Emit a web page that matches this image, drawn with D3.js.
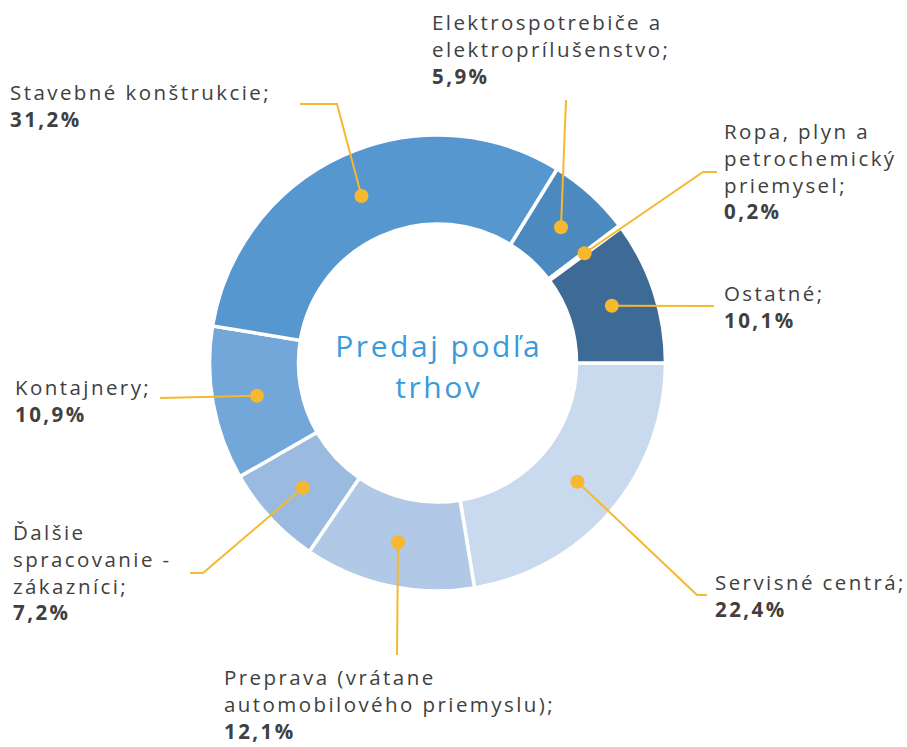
<!DOCTYPE html>
<html>
<head>
<meta charset="utf-8">
<script src="https://cdn.jsdelivr.net/npm/d3@7"></script>
<style>
  html, body { margin: 0; padding: 0; background: #fff; }
  svg { display: block; }
</style>
</head>
<body>
<svg id="chart" width="907" height="747"></svg>
<script>
// ---- data ----
const categories = [
  "Servisné centrá",
  "Preprava (vrátane automobilového priemyslu)",
  "Ďalšie spracovanie - zákazníci",
  "Kontajnery",
  "Stavebné konštrukcie",
  "Elektrospotrebiče a elektroprílušenstvo",
  "Ropa, plyn a petrochemický priemysel",
  "Ostatné"
];
const values = [22.4, 12.1, 7.2, 10.9, 31.2, 5.9, 0.2, 10.1];
const valueLabels = ["22,4%", "12,1%", "7,2%", "10,9%", "31,2%", "5,9%", "0,2%", "10,1%"];
const labelLines = [
  ["Servisné centrá;"],
  ["Preprava (vrátane", "automobilového priemyslu);"],
  ["Ďalšie", "spracovanie -", "zákazníci;"],
  ["Kontajnery;"],
  ["Stavebné konštrukcie;"],
  ["Elektrospotrebiče a", "elektroprílušenstvo;"],
  ["Ropa, plyn a", "petrochemický", "priemysel;"],
  ["Ostatné;"]
];
const colors = ["#c9d9ee", "#b1c9e6", "#9bbae0", "#73a6d9", "#5797cf", "#4b89bf", "#4677a8", "#3e6b96"];
const centerTitle = ["Predaj podľa", "trhov"];

// ---- layout (positions only) ----
const cx = 437.5, cy = 363, rOuter = 228, rInner = 139, rDot = 183.5;
const layout = [
  { bend: [697, 595], end: [707, 595], lx: 715, ly: 590 },
  { bend: [397, 655], end: [397, 655], lx: 224, ly: 685 },
  { bend: [203, 573], end: [190, 573], lx: 13, ly: 540 },
  { bend: [160, 398], end: [160, 398], lx: 15, ly: 395 },
  { bend: [337, 104], end: [300, 104], lx: 10, ly: 100 },
  { bend: [566, 100], end: [566, 100], lx: 432, ly: 30 },
  { bend: [703, 172], end: [717, 172], lx: 724, ly: 139 },
  { bend: [714, 306], end: [714, 306], lx: 724, ly: 301 }
];

const svg = d3.select("#chart");
const g = svg.append("g").attr("transform", `translate(${cx},${cy})`);

const pie = d3.pie().sort(null).value(d => d)
  .startAngle(Math.PI / 2).endAngle(Math.PI / 2 + 2 * Math.PI);
const arcs = pie(values);
const arc = d3.arc().innerRadius(rInner).outerRadius(rOuter);
const midArc = d3.arc().innerRadius(rDot).outerRadius(rDot);

g.selectAll("path.slice").data(arcs).join("path")
  .attr("class", "slice")
  .attr("d", arc)
  .attr("fill", (d, i) => colors[i])
  .attr("stroke", "#fff")
  .attr("stroke-width", 3.5)
  .attr("stroke-linejoin", "miter");

const yellow = "#f5b82e";
arcs.forEach((a, i) => {
  const c = midArc.centroid(a);
  const p0 = [cx + c[0], cy + c[1]];
  const L = layout[i];
  svg.append("polyline")
    .attr("points", [p0, L.bend, L.end].map(p => p.join(",")).join(" "))
    .attr("fill", "none")
    .attr("stroke", yellow)
    .attr("stroke-width", 2);
  svg.append("circle")
    .attr("cx", p0[0]).attr("cy", p0[1]).attr("r", 7)
    .attr("fill", yellow);
});

// labels
const font = "'Open Sans', sans-serif";
const fs = 20.5;
const lh = 26.8;
// fit letter-spacing so that the widest reference line matches reference width
const probe = svg.append("text").attr("font-family", font).attr("font-size", fs)
  .text("Stavebné konštrukcie;");
const pw = probe.node().getComputedTextLength();
const nChars = "Stavebné konštrukcie;".length;
const ls = (261 - pw) / nChars;
probe.remove();

categories.forEach((c, i) => {
  const L = layout[i];
  const t = svg.append("text")
    .attr("x", L.lx).attr("y", L.ly)
    .attr("font-family", font)
    .attr("font-size", fs)
    .attr("letter-spacing", ls)
    .attr("fill", "#404040");
  labelLines[i].forEach((ln, k) => {
    t.append("tspan").attr("x", L.lx).attr("y", L.ly + k * lh).text(ln);
  });
  t.append("tspan").attr("x", L.lx).attr("y", L.ly + labelLines[i].length * lh)
    .attr("font-weight", 700).text(valueLabels[i]);
});

// center title
const cfs = 30;
const probe2 = svg.append("text").attr("font-family", font).attr("font-size", cfs)
  .text(centerTitle[0]);
const pw2 = probe2.node().getComputedTextLength();
const ls2 = (207 - pw2) / centerTitle[0].length;
probe2.remove();
const ct = svg.append("text")
  .attr("text-anchor", "middle")
  .attr("font-family", font)
  .attr("font-size", cfs)
  .attr("letter-spacing", ls2)
  .attr("fill", "#3b9ad9");
centerTitle.forEach((ln, k) => {
  ct.append("tspan").attr("x", cx + ls2 / 2).attr("y", 357 + k * 41).text(ln);
});
</script>
</body>
</html>
